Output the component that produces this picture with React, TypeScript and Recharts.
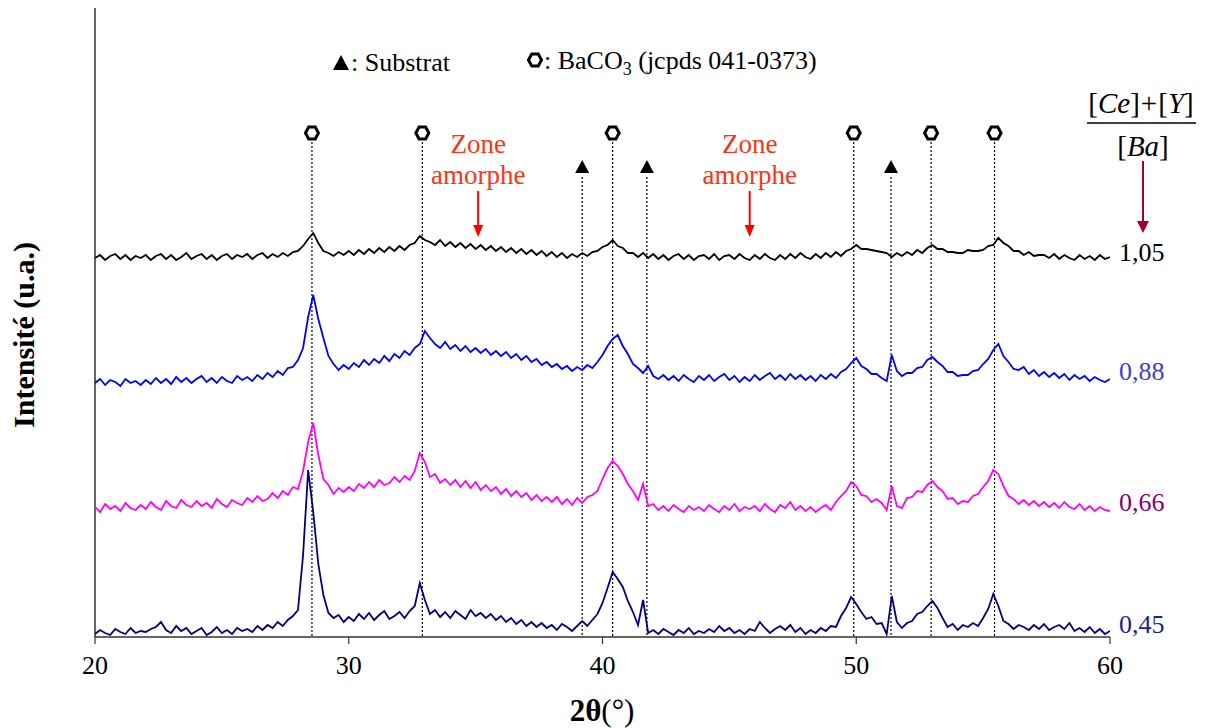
import React from 'react';
import { LineChart, Line, XAxis, YAxis, ReferenceLine, ReferenceDot } from 'recharts';

// 2θ scan grid (degrees)
const ANGLES: number[] = Array.from({ length: 201 }, (_, i) => +(20 + i * 0.2).toFixed(1));

// Intensities (u.a., offset stacked)
const S045 = [
  3, 7, 4, 2, 8, 5, 3, 9, 4, 6,
  5, 8, 10, 15, 7, 4, 11, 6, 9, 3,
  6, 9, 2, 5, 10, 4, 7, 3, 9, 6,
  8, 5, 11, 7, 12, 9, 15, 11, 17, 21,
  27, 82, 167, 125, 73, 42, 24, 19, 22, 15,
  20, 16, 23, 18, 24, 17, 22, 26, 18, 21,
  25, 19, 26, 31, 54, 37, 23, 27, 20, 25,
  19, 26, 22, 18, 27, 21, 24, 19, 23, 17,
  21, 15, 19, 13, 17, 11, 15, 10, 14, 9,
  12, 7, 13, 10, 6, 11, 16, 11, 17, 23,
  34, 49, 65, 58, 50, 36, 25, 12, 37, 4,
  7, 3, 8, 5, 2, 7, 4, 9, 3, 6,
  4, 8, 5, 11, 6, 9, 4, 7, 3, 8,
  6, 15, 9, 4, 8, 11, 7, 12, 5, 9,
  3, 7, 4, 9, 6, 11, 10, 21, 29, 40,
  33, 25, 18, 20, 13, 14, 3, 41, 15, 9,
  14, 16, 23, 25, 31, 36, 29, 19, 10, 13,
  7, 12, 10, 14, 11, 19, 28, 43, 31, 16,
  13, 8, 12, 10, 7, 12, 8, 13, 7, 10,
  12, 8, 14, 6, 9, 5, 10, 4, 8, 3,
  6,
];

const S066 = [
  130, 125, 133, 128, 131, 126, 134, 129, 127, 132,
  128, 135, 130, 127, 136, 131, 129, 137, 132, 130,
  136, 131, 134, 129, 138, 133, 130, 137, 134, 132,
  139, 135, 141, 136, 138, 144, 139, 146, 142, 150,
  148, 166, 195, 214, 182, 158, 152, 143, 149, 145,
  150, 146, 153, 149, 155, 150, 157, 152, 154, 160,
  155, 161, 157, 166, 184, 175, 160, 163, 154, 158,
  152, 157, 150, 156, 149, 155, 147, 152, 146, 150,
  143, 148, 141, 146, 140, 144, 137, 142, 136, 140,
  135, 140, 133, 138, 132, 139, 134, 140, 142, 146,
  158, 169, 176, 171, 163, 153, 146, 137, 153, 131,
  133, 127, 131, 126, 132, 128, 125, 131, 127, 130,
  126, 132, 128, 125, 131, 127, 133, 126, 130, 128,
  131, 126, 133, 128, 125, 132, 129, 135, 127, 131,
  126, 130, 125, 129, 132, 127, 135, 141, 146, 155,
  151, 142, 141, 135, 138, 134, 127, 151, 131, 129,
  139, 140, 146, 145, 152, 156, 150, 146, 138, 139,
  133, 136, 135, 141, 143, 150, 156, 167, 163, 151,
  141, 138, 133, 137, 132, 136, 131, 135, 130, 134,
  129, 135, 130, 128, 133, 127, 131, 126, 130, 127,
  126,
];

const S088 = [
  254, 258, 252, 257, 255, 251, 258, 254, 256, 252,
  257, 253, 259, 254, 258, 253, 260, 255, 259, 254,
  258, 261, 255, 259, 254, 260, 256, 254, 261, 257,
  260, 256, 262, 258, 264, 260, 266, 262, 269, 270,
  277, 289, 320, 342, 318, 299, 281, 273, 267, 272,
  268, 274, 270, 277, 272, 278, 274, 281, 276, 283,
  279, 286, 282, 289, 293, 306, 299, 293, 289, 295,
  288, 292, 286, 291, 285, 289, 284, 288, 282, 286,
  281, 285, 279, 283, 277, 281, 275, 278, 272, 275,
  270, 273, 268, 271, 266, 270, 267, 272, 269, 275,
  282, 291, 298, 302, 291, 283, 273, 269, 264, 271,
  261, 258, 262, 257, 261, 256, 262, 258, 255, 261,
  257, 262, 256, 260, 263, 257, 261, 255, 260, 256,
  262, 257, 261, 264, 258, 262, 257, 263, 258, 262,
  257, 261, 256, 262, 258, 263, 259, 265, 268, 274,
  279, 271, 268, 263, 263, 259, 256, 282, 266, 261,
  264, 264, 269, 270, 277, 280, 275, 271, 265, 265,
  261, 262, 262, 266, 267, 273, 278, 287, 293, 281,
  275, 268, 267, 270, 263, 267, 261, 265, 260, 264,
  259, 263, 257, 262, 258, 261, 256, 260, 257, 255,
  258,
];

const S105 = [
  379, 382, 377, 381, 383, 378, 382, 377, 381, 379,
  382, 377, 381, 383, 378, 382, 377, 380, 384, 378,
  381, 383, 378, 382, 377, 381, 383, 378, 382, 380,
  383, 378, 382, 384, 379, 383, 380, 384, 381, 385,
  386, 391, 398, 404, 394, 386, 384, 381, 385, 382,
  386, 382, 387, 383, 388, 384, 389, 385, 390, 386,
  391, 387, 392, 394, 401, 397, 395, 392, 397, 391,
  395, 390, 394, 389, 393, 388, 392, 387, 391, 386,
  390, 385, 389, 384, 388, 383, 387, 382, 386, 381,
  385, 380, 384, 379, 383, 380, 384, 381, 385, 386,
  390, 392, 397, 391, 389, 384, 384, 380, 384, 379,
  383, 378, 382, 377, 381, 383, 378, 382, 377, 381,
  382, 378, 383, 377, 381, 382, 378, 383, 379, 377,
  382, 378, 383, 379, 377, 382, 378, 383, 379, 384,
  380, 378, 383, 379, 384, 380, 385, 381, 386, 388,
  392, 388, 388, 387, 386, 385, 384, 380, 384, 381,
  385, 382, 387, 384, 389, 392, 388, 388, 385, 385,
  384, 384, 387, 386, 386, 387, 391, 392, 399, 394,
  391, 386, 386, 382, 385, 381, 382, 382, 379, 383,
  378, 382, 379, 377, 382, 378, 381, 377, 382, 378,
  380,
];

const X_TICKS = [20, 30, 40, 50, 60];
const BACO3_PEAKS = [28.55, 32.9, 40.4, 49.9, 52.95, 55.45];
const SUBSTRAT_PEAKS = [39.2, 41.75, 51.37];
const AMORPH_ZONES = [35.1, 45.8];
const SERIES_LABELS = ['1,05', '0,88', '0,66', '0,45'];

const data = ANGLES.map((a, i) => ({
  angle: a,
  s045: S045[i],
  s066: S066[i],
  s088: S088[i],
  s105: S105[i],
}));

const FONT = '"Liberation Serif", "Times New Roman", serif';

const Hexagon = (props: any) => {
  const { cx, cy } = props;
  const w = 6.5, h = 6;
  const pts = [
    [cx - w, cy], [cx - w / 2, cy - h], [cx + w / 2, cy - h],
    [cx + w, cy], [cx + w / 2, cy + h], [cx - w / 2, cy + h],
  ].map((p) => p.join(',')).join(' ');
  return <polygon points={pts} fill="#fff" stroke="#000" strokeWidth={3} />;
};

const Triangle = (props: any) => {
  const { cx, cy } = props;
  const pts = `${cx},${cy - 7} ${cx + 7},${cy + 6} ${cx - 7},${cy + 6}`;
  return <polygon points={pts} fill="#000" />;
};

const Amorph = (props: any) => {
  const { cx, cy } = props;
  return (
    <g>
      <text x={cx} y={cy - 84} textAnchor="middle" fontFamily={FONT} fontSize={27} fill="#ff3311">Zone</text>
      <text x={cx} y={cy - 53} textAnchor="middle" fontFamily={FONT} fontSize={27} fill="#ff3311">amorphe</text>
      <line x1={cx} y1={cy - 46} x2={cx} y2={cy - 10} stroke="#ff0000" strokeWidth={2} />
      <polygon points={`${cx - 5},${cy - 12} ${cx + 5},${cy - 12} ${cx},${cy}`} fill="#ff0000" />
    </g>
  );
};

export default function App() {
  return (
    <div style={{ position: 'absolute', left: 0, top: 0, width: 1205, height: 728, background: '#fff' }}>
      <LineChart width={1205} height={728} data={data} margin={{ top: 8, right: 95, bottom: 51, left: 95 }}>
        <XAxis
          dataKey="angle"
          type="number"
          domain={[20, 60]}
          ticks={X_TICKS}
          allowDataOverflow
          height={40}
          tickSize={7}
          tickMargin={12}
          axisLine={{ stroke: '#333', strokeWidth: 1.5 }}
          tickLine={{ stroke: '#333', strokeWidth: 1.2 }}
          tick={{ fontFamily: FONT, fontSize: 26, fill: '#000' }}
        />
        <YAxis
          type="number"
          domain={[0, 629]}
          allowDataOverflow
          width={0}
          tick={false}
          tickLine={false}
          axisLine={false}
        />
        <ReferenceLine x={20} stroke="#333" strokeWidth={1.5} />
        {BACO3_PEAKS.map((x) => (
          <ReferenceLine key={'b' + x} segment={[{ x, y: 495 }, { x, y: 0 }]} stroke="#000" strokeWidth={1.2} strokeDasharray="2 2" />
        ))}
        {SUBSTRAT_PEAKS.map((x) => (
          <ReferenceLine key={'s' + x} segment={[{ x, y: 460 }, { x, y: 0 }]} stroke="#000" strokeWidth={1.2} strokeDasharray="2 2" />
        ))}
        <Line dataKey="s045" stroke="#000080" strokeWidth={1.8} dot={false} isAnimationActive={false} type="linear" />
        <Line dataKey="s066" stroke="#ff00ff" strokeWidth={1.8} dot={false} isAnimationActive={false} type="linear" />
        <Line dataKey="s088" stroke="#0000ff" strokeWidth={1.8} dot={false} isAnimationActive={false} type="linear" />
        <Line dataKey="s105" stroke="#000000" strokeWidth={1.8} dot={false} isAnimationActive={false} type="linear" />
        {BACO3_PEAKS.map((x) => (
          <ReferenceDot key={'hb' + x} x={x} y={504} r={6} shape={Hexagon} ifOverflow="visible" />
        ))}
        {SUBSTRAT_PEAKS.map((x) => (
          <ReferenceDot key={'ts' + x} x={x} y={470} r={6} shape={Triangle} ifOverflow="visible" />
        ))}
        {AMORPH_ZONES.map((x) => (
          <ReferenceDot key={'az' + x} x={x} y={400} r={4} shape={Amorph} ifOverflow="visible" />
        ))}
      </LineChart>
      <svg width={1205} height={728} style={{ position: 'absolute', left: 0, top: 0, pointerEvents: 'none' }}>
        {/* top legend */}
        <polygon points="341,55 349,70 333,70" fill="#000" />
        <text x={351} y={71} fontFamily={FONT} fontSize={26} fill="#000">: Substrat</text>
        <Hexagon cx={535} cy={60} />
        <text x={544} y={69} fontFamily={FONT} fontSize={26} fill="#000">
          : BaCO<tspan fontSize={18} dy={6}>3</tspan><tspan dy={-6}> (jcpds 041-0373)</tspan>
        </text>
        {/* fraction */}
        <text x={1141} y={113} textAnchor="middle" fontFamily={FONT} fontSize={29} fill="#000">
          [<tspan fontStyle="italic">Ce</tspan>]<tspan dx={1}>+</tspan><tspan dx={1}>[</tspan><tspan fontStyle="italic">Y</tspan>]
        </text>
        <line x1={1087} y1={123} x2={1196} y2={123} stroke="#000" strokeWidth={1.5} />
        <text x={1143} y={156} textAnchor="middle" fontFamily={FONT} fontSize={29} fill="#000">
          [<tspan fontStyle="italic">Ba</tspan>]
        </text>
        <line x1={1143} y1={161} x2={1143} y2={222} stroke="#a0002a" strokeWidth={2} />
        <polygon points="1137,221 1149,221 1143,233" fill="#a0002a" />
        {/* series labels */}
        <text x={1119} y={261} fontFamily={FONT} fontSize={26} fill="#000">{SERIES_LABELS[0]}</text>
        <text x={1119} y={380} fontFamily={FONT} fontSize={26} fill="#4040d0">{SERIES_LABELS[1]}</text>
        <text x={1119} y={511} fontFamily={FONT} fontSize={26} fill="#800080">{SERIES_LABELS[2]}</text>
        <text x={1119} y={633} fontFamily={FONT} fontSize={26} fill="#1c1c9c">{SERIES_LABELS[3]}</text>
        {/* axis titles */}
        <text x={602} y={721} textAnchor="middle" fontFamily={FONT} fontSize={31} fill="#000">
          <tspan fontWeight="bold">2θ</tspan>(°)
        </text>
        <text transform="translate(34,335) rotate(-90)" textAnchor="middle" fontFamily={FONT} fontSize={30} fontWeight="bold" fill="#000">
          Intensité (u.a.)
        </text>
      </svg>
    </div>
  );
}
